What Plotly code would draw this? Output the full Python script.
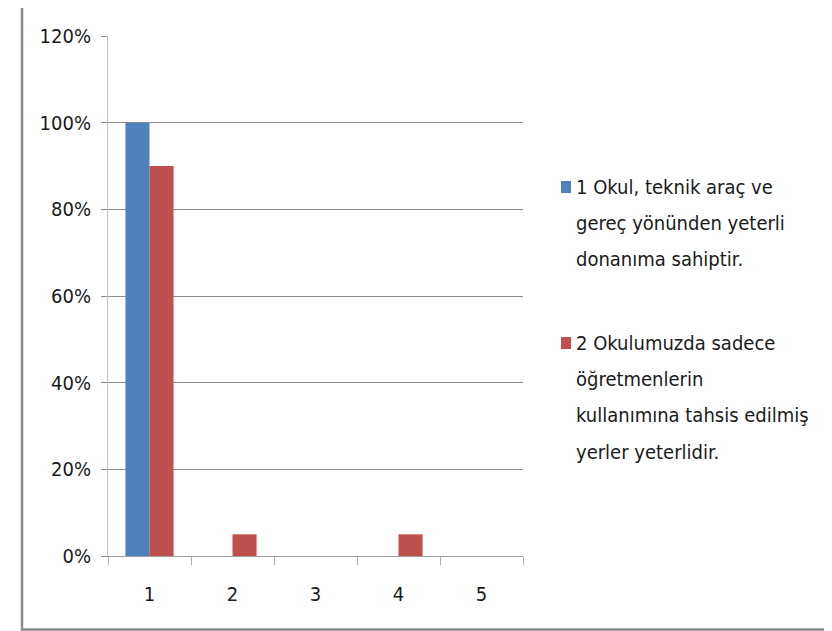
import plotly.graph_objects as go

categories = ["1", "2", "3", "4", "5"]
series1_name = "1 Okul, teknik araç ve gereç yönünden yeterli donanıma sahiptir."
series1_values = [1.00, 0, 0, 0, 0]
series2_name = "2 Okulumuzda sadece öğretmenlerin kullanımına tahsis edilmiş yerler yeterlidir."
series2_values = [0.90, 0.05, 0, 0.05, 0]
legend1_lines = ["1 Okul, teknik araç ve", "gereç yönünden yeterli", "donanıma sahiptir."]
legend2_lines = ["2 Okulumuzda sadece", "öğretmenlerin", "kullanımına tahsis edilmiş", "yerler yeterlidir."]
ytick_vals = [0, 0.2, 0.4, 0.6, 0.8, 1.0, 1.2]
ytick_text = ["0%", "20%", "40%", "60%", "80%", "100%", "120%"]

BLUE = "#4F81BD"
RED = "#C0504D"
FONT = "DejaVu Sans Condensed, Liberation Sans Narrow, sans-serif"
TXT = "#1a1a1a"

# page body has an 8px margin; the figure canvas starts at (8, 8)
OFF = 8
W, H = 832 - OFF, 631 - OFF
L, R, T, B = 108 - OFF, 523 - OFF, 36 - OFF, 556 - OFF

fig = go.Figure()
fig.add_trace(go.Bar(x=categories, y=series1_values, name=series1_name,
                     marker=dict(color=BLUE, line=dict(width=0)), showlegend=False))
fig.add_trace(go.Bar(x=categories, y=series2_values, name=series2_name,
                     marker=dict(color=RED, line=dict(width=0)), showlegend=False))

def px(xp):
    return (xp - OFF - L) / (R - L)

def py(yp):
    return (B - (yp - OFF)) / (B - T)

shapes = [
    dict(type="rect", xref="paper", yref="paper",
         x0=px(22), x1=px(831), y0=py(629.5), y1=py(3),
         line=dict(color="#8a8a8a", width=2.5), fillcolor="rgba(0,0,0,0)", layer="below"),
]
annotations = []
font_size = 20
for lines, color, y0 in [(legend1_lines, BLUE, 187), (legend2_lines, RED, 343)]:
    shapes.append(dict(type="rect", xref="paper", yref="paper",
                       x0=px(561), x1=px(571), y0=py(y0 + 6), y1=py(y0 - 6),
                       fillcolor=color, line=dict(width=0)))
    for i, line in enumerate(lines):
        annotations.append(dict(text=line, xref="paper", yref="paper",
                                x=px(574), y=py(y0 + i * 36.2), xanchor="left", yanchor="middle",
                                showarrow=False, font=dict(family=FONT, size=font_size, color=TXT)))

fig.update_layout(
    width=W, height=H,
    margin=dict(l=L, r=W - R, t=T, b=H - B),
    paper_bgcolor="white", plot_bgcolor="white",
    barmode="group", bargap=0.42, bargroupgap=0,
    font=dict(family=FONT, size=font_size, color=TXT),
    shapes=shapes, annotations=annotations,
    xaxis=dict(type="category", showgrid=False, showline=True, linecolor="#a0a0a0", linewidth=1,
               ticks="outside", tickson="boundaries", ticklen=8, tickcolor="#b0b0b0",
               ticklabelstandoff=20,
               tickfont=dict(family=FONT, size=font_size, color=TXT), fixedrange=True),
    yaxis=dict(range=[0, 1.2], tickvals=ytick_vals, ticktext=ytick_text,
               showgrid=True, gridcolor="#8c8c8c", gridwidth=1,
               showline=True, linecolor="#c0c0c0", linewidth=1,
               ticks="outside", ticklen=6, tickcolor="#8c8c8c",
               zeroline=False, ticklabelstandoff=6,
               tickfont=dict(family=FONT, size=font_size, color=TXT), fixedrange=True),
)

fig.write_html("out.html")
